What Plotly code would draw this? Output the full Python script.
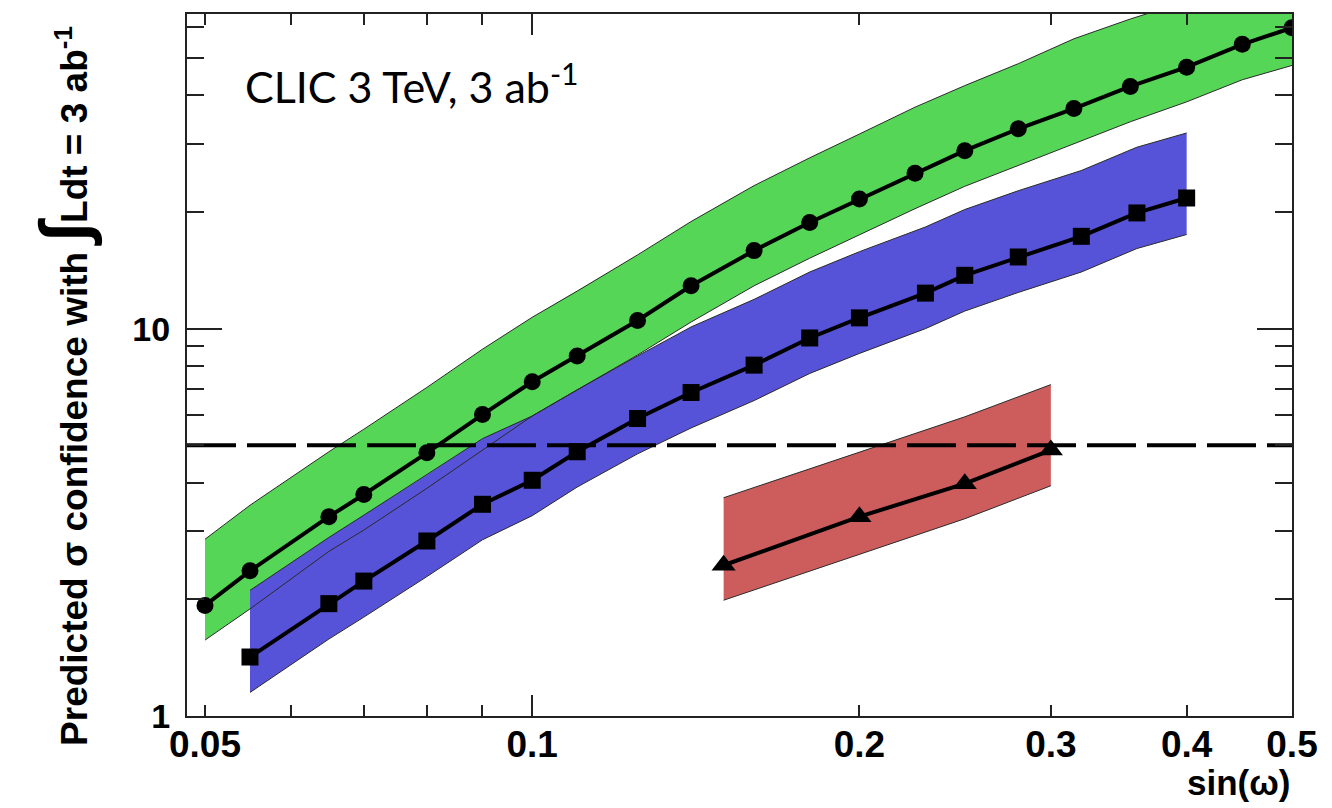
import math
import plotly.graph_objects as go

# ---- data ----
circ_x = [0.05, 0.055, 0.065, 0.07, 0.08, 0.09, 0.1, 0.11, 0.125, 0.14, 0.16, 0.18, 0.2,
          0.225, 0.25, 0.28, 0.315, 0.355, 0.4, 0.45, 0.5]
circ_y = [1.93, 2.37, 3.27, 3.73, 4.78, 6.0, 7.29, 8.5, 10.5, 12.9, 15.9, 18.8, 21.6,
          25.2, 28.8, 32.8, 37.0, 42.2, 47.3, 54.2, 59.8]
green_up = [2.86, 3.5, 4.81, 5.5, 7.05, 8.85, 10.7, 12.5, 15.5, 18.9, 23.4, 27.6, 31.8,
            37.3, 42.4, 48.3, 56.0, 63.0, 70.0, 80.2, 88.5]
green_lo = [1.57, 1.89, 2.66, 3.02, 3.87, 4.86, 5.95, 6.95, 8.55, 10.4, 12.9, 15.2, 17.5,
            20.4, 23.3, 26.4, 30.0, 34.2, 38.5, 43.9, 47.8]

sq_x = [0.055, 0.065, 0.07, 0.08, 0.09, 0.1, 0.11, 0.125, 0.14, 0.16, 0.18, 0.2, 0.23,
        0.25, 0.28, 0.32, 0.36, 0.4]
sq_y = [1.42, 1.95, 2.23, 2.83, 3.52, 4.06, 4.81, 5.86, 6.84, 8.05, 9.46, 10.66, 12.35,
        13.73, 15.31, 17.31, 19.89, 21.74]
blue_up = [2.11, 2.89, 3.3, 4.19, 5.2, 5.95, 6.95, 8.5, 10.1, 11.9, 14.0, 15.8, 18.3,
           20.3, 22.7, 25.6, 29.4, 32.0]
blue_lo = [1.15, 1.58, 1.8, 2.29, 2.85, 3.29, 3.9, 4.75, 5.54, 6.52, 7.66, 8.63, 10.0,
           11.1, 12.4, 14.0, 16.1, 17.5]

tri_x = [0.15, 0.2, 0.25, 0.3]
tri_y = [2.45, 3.27, 3.98, 4.86]
red_up = [3.66, 4.79, 5.92, 7.17]
red_lo = [1.99, 2.61, 3.23, 3.93]

threshold = 5.0
x_min, x_max = 0.04813, 0.5
y_min, y_max = 1.0, 64.9

x_label_vals = [0.05, 0.1, 0.2, 0.3, 0.4, 0.5]
x_label_text = ["0.05", "0.1", "0.2", "0.3", "0.4", "0.5"]
x_minor_vals = [0.05, 0.06, 0.07, 0.08, 0.09, 0.2, 0.3, 0.4, 0.5]
y_major_vals = [1, 10]
y_major_text = ["1", "10"]
y_minor_vals = [2, 3, 4, 5, 6, 7, 8, 9, 20, 30, 40, 50, 60]

GREEN = "#56d656"
BLUE = "#5653d8"
RED = "#cd5c5c"
EDGE = "#2a2a2a"

fig = go.Figure()

bands = [
    (circ_x, green_lo, green_up, GREEN),
    (sq_x, blue_lo, blue_up, BLUE),
    (tri_x, red_lo, red_up, RED),
]
for bx, lo, up, col in bands:
    fig.add_trace(go.Scatter(
        x=list(bx) + list(bx)[::-1], y=list(lo) + list(up)[::-1],
        fill="toself", fillcolor=col, mode="lines", line=dict(width=0),
        hoverinfo="skip", showlegend=False))
for bx, lo, up, col in bands:
    for edge in (lo, up):
        fig.add_trace(go.Scatter(x=bx, y=edge, mode="lines",
                                 line=dict(color=EDGE, width=1),
                                 hoverinfo="skip", showlegend=False))

fig.add_trace(go.Scatter(x=[x_min, x_max], y=[threshold, threshold], mode="lines",
                         line=dict(color="black", width=4, dash="49px,11px"),
                         hoverinfo="skip", showlegend=False))

series = [
    (circ_x, circ_y, "circle", 17),
    (sq_x, sq_y, "square", 17),
    (tri_x, tri_y, "triangle-up", 21),
]
for sx, sy, sym, size in series:
    fig.add_trace(go.Scatter(x=sx, y=sy, mode="lines+markers",
                             line=dict(color="black", width=4),
                             marker=dict(symbol=sym, size=size, color="black"),
                             showlegend=False))

# empty trace on the overlay axis that carries the x tick labels
fig.add_trace(go.Scatter(x=[], y=[], xaxis="x2", yaxis="y", showlegend=False))

xr = [math.log10(x_min), math.log10(x_max)]
yr = [math.log10(y_min), math.log10(y_max)]

fig.update_layout(
    width=1332, height=808,
    margin=dict(l=187, r=40, t=12, b=92),
    paper_bgcolor="white", plot_bgcolor="white",
    xaxis=dict(type="log", range=xr, showgrid=False, zeroline=False,
               showline=True, linecolor="#222", linewidth=2, mirror="ticks",
               tickmode="array", tickvals=[0.1], ticks="inside", ticklen=21,
               tickwidth=1.5, tickcolor="#222", showticklabels=False,
               minor=dict(tickmode="array", tickvals=x_minor_vals, ticks="inside",
                          ticklen=11, tickwidth=1.5, tickcolor="#222", showgrid=False)),
    xaxis2=dict(type="log", range=xr, overlaying="x", anchor="y", side="bottom",
                showgrid=False, zeroline=False, showline=False,
                tickmode="array", tickvals=x_label_vals, ticktext=x_label_text,
                ticks="", ticklabelstandoff=3,
                tickfont=dict(family="Liberation Sans", size=37, color="black", weight="bold")),
    yaxis=dict(type="log", range=yr, showgrid=False, zeroline=False,
               showline=True, linecolor="#222", linewidth=2, mirror="ticks",
               tickmode="array", tickvals=y_major_vals, ticktext=y_major_text,
               ticks="inside", ticklen=35, tickwidth=1.5, tickcolor="#222",
               tickfont=dict(family="Liberation Sans", size=34, color="black", weight="bold"),
               ticklabelstandoff=8,
               minor=dict(tickmode="array", tickvals=y_minor_vals, ticks="inside",
                          ticklen=17, tickwidth=1.5, tickcolor="#222", showgrid=False)),
)

fig.add_annotation(
    text="CLIC 3 TeV, 3 ab<sup>-1</sup>", xref="paper", yref="paper",
    x=(243 - 187) / 1105, y=(716 - 82) / 704, xanchor="left", yanchor="middle",
    showarrow=False, font=dict(family="Lato", size=43, color="black"))

fig.add_annotation(
    text="sin(ω)", xref="paper", yref="paper",
    x=(1292 - 187) / 1105, y=(716 - 783) / 704, xanchor="right", yanchor="middle",
    showarrow=False, font=dict(family="Liberation Sans", size=35, color="black", weight="bold"))

fig.add_annotation(
    text="Predicted σ confidence with <span style='font-size:68px'>∫</span>Ldt = 3 ab<sup>-1</sup>",
    xref="paper", yref="paper", textangle=-90,
    x=(64 - 187) / 1105, y=(716 - 385) / 704, xanchor="center", yanchor="middle",
    showarrow=False, font=dict(family="Liberation Sans", size=37, color="black", weight="bold"))

fig.write_html("out.html")
